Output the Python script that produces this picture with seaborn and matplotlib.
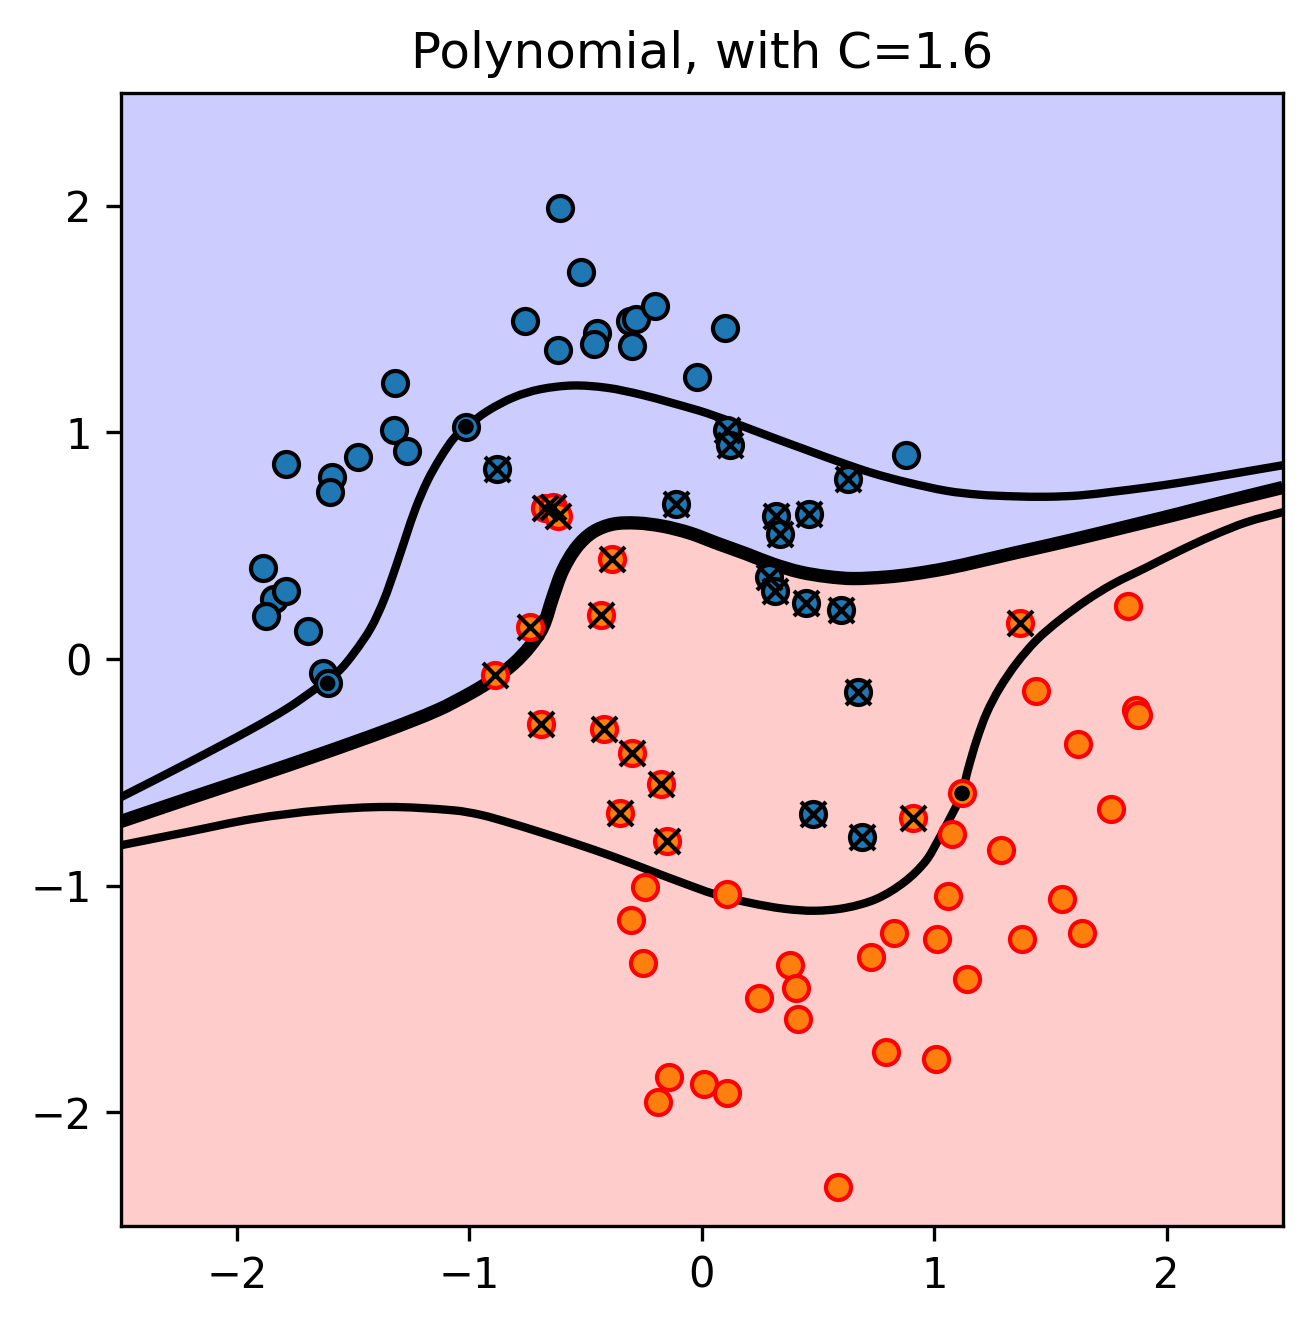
import matplotlib
matplotlib.use("Agg")
import matplotlib.pyplot as plt
import numpy as np
import seaborn as sns
from matplotlib.path import Path
from matplotlib.patches import PathPatch

blue_x = [-0.61,-0.52,-0.76,-0.45,-0.465,-0.62,-0.31,-0.285,-0.30,-0.20,0.10,-0.02,-1.32,-1.325,-1.27,-1.48,-1.79,-1.59,-1.60,-1.89,-1.84,-1.79,-1.875,-1.695,-1.63,0.88]
blue_y = [1.99,1.71,1.49,1.44,1.39,1.365,1.49,1.50,1.38,1.56,1.46,1.245,1.22,1.01,0.92,0.89,0.86,0.805,0.735,0.40,0.265,0.30,0.19,0.125,-0.06,0.90]
blue_sv_x = [-0.88,-0.11,0.107,0.12,0.63,0.46,0.32,0.335,0.29,0.315,0.447,0.60,0.67,0.48,0.69]
blue_sv_y = [0.84,0.685,1.01,0.945,0.795,0.64,0.63,0.55,0.36,0.30,0.245,0.215,-0.145,-0.685,-0.785]
blue_dot_x = [-1.015,-1.61]
blue_dot_y = [1.025,-0.108]

red_x = [1.833,1.44,1.867,1.876,1.618,1.76,1.076,1.287,0.108,-0.245,-0.305,-0.254,1.058,1.549,1.635,1.377,1.011,0.826,0.73,1.14,0.379,0.404,0.413,0.245,0.792,1.007,-0.142,-0.189,0.009,0.108,0.585]
red_y = [0.236,-0.143,-0.223,-0.245,-0.377,-0.66,-0.774,-0.845,-1.039,-1.008,-1.153,-1.343,-1.047,-1.061,-1.21,-1.237,-1.237,-1.21,-1.316,-1.413,-1.352,-1.453,-1.59,-1.497,-1.735,-1.766,-1.846,-1.956,-1.876,-1.916,-2.331]
red_sv_x = [-0.675,-0.64,-0.62,-0.387,-0.435,-0.74,-0.89,-0.69,-0.42,-0.30,-0.176,-0.353,-0.15,0.91,1.37]
red_sv_y = [0.665,0.67,0.63,0.443,0.195,0.14,-0.07,-0.285,-0.31,-0.415,-0.55,-0.68,-0.805,-0.70,0.157]
red_dot_x = [1.12]
red_dot_y = [-0.593]

upper_x = [-2.5,-2.212,-1.928,-1.781,-1.670,-1.566,-1.497,-1.424,-1.368,-1.317,-1.274,-1.231,-1.179,-1.123,-1.067,-1.015,-0.921,-0.809,-0.697,-0.555,-0.409,-0.267,-0.125,0.022,0.164,0.306,0.452,0.594,0.736,0.882,1.054,1.196,1.338,1.485,1.627,1.768,1.915,2.057,2.199,2.345,2.5]
upper_y = [-0.61,-0.459,-0.304,-0.216,-0.137,-0.057,0.026,0.137,0.260,0.406,0.538,0.666,0.789,0.891,0.974,1.023,1.095,1.155,1.19,1.207,1.197,1.168,1.129,1.085,1.032,0.977,0.922,0.869,0.820,0.780,0.742,0.725,0.718,0.716,0.722,0.738,0.757,0.778,0.802,0.828,0.855]
mid_x = [-2.5,-2.212,-1.928,-1.639,-1.351,-1.136,-0.994,-0.895,-0.809,-0.740,-0.684,-0.641,-0.598,-0.538,-0.469,-0.383,-0.280,-0.168,-0.052,0.065,0.194,0.306,0.422,0.538,0.650,0.796,0.908,1.054,1.196,1.338,1.485,1.627,1.768,1.915,2.057,2.199,2.345,2.5]
mid_y = [-0.717,-0.617,-0.520,-0.419,-0.313,-0.225,-0.150,-0.088,-0.020,0.055,0.141,0.273,0.392,0.494,0.560,0.595,0.600,0.586,0.556,0.511,0.463,0.419,0.384,0.364,0.355,0.362,0.375,0.400,0.432,0.466,0.500,0.534,0.569,0.606,0.642,0.680,0.718,0.757]
lower_x = [-2.5,-2.212,-1.928,-1.639,-1.351,-1.067,-0.95,-0.830,-0.684,-0.534,-0.387,-0.237,-0.090,0.056,0.207,0.353,0.486,0.620,0.753,0.873,0.964,1.020,1.080,1.119,1.145,1.183,1.226,1.282,1.355,1.441,1.540,1.657,1.768,1.915,2.057,2.199,2.345,2.5]
lower_y = [-0.822,-0.763,-0.705,-0.668,-0.653,-0.668,-0.688,-0.722,-0.768,-0.818,-0.870,-0.928,-0.985,-1.038,-1.076,-1.102,-1.111,-1.098,-1.058,-0.983,-0.891,-0.794,-0.679,-0.595,-0.489,-0.357,-0.238,-0.128,-0.018,0.084,0.172,0.260,0.330,0.405,0.478,0.545,0.604,0.648]


def smooth_path(xs, ys):
    """Bezier path that goes through every read point, for a smooth stroke."""
    p = np.column_stack([xs, ys])
    d = np.hypot(*np.diff(p, axis=0).T)
    t = np.zeros_like(p)
    t[1:-1] = (p[2:] - p[:-2]) / (d[1:] + d[:-1])[:, None]
    t[0] = (p[1] - p[0]) / d[0]
    t[-1] = (p[-1] - p[-2]) / d[-1]
    verts = [p[0]]
    codes = [Path.MOVETO]
    for i in range(len(d)):
        verts += [p[i] + t[i] * d[i] / 3, p[i + 1] - t[i + 1] * d[i] / 3, p[i + 1]]
        codes += [Path.CURVE4] * 3
    return Path(verts, codes)


sns.set_style("ticks", {"axes.grid": False})
plt.rcParams.update({"font.family": "DejaVu Sans", "axes.edgecolor": "black", "xtick.color": "black",
                     "ytick.color": "black", "text.color": "black", "axes.labelcolor": "black",
                     "xtick.direction": "out", "ytick.direction": "out", "axes.linewidth": 0.8,
                     "xtick.major.size": 3.5, "ytick.major.size": 3.5,
                     "xtick.major.width": 0.8, "ytick.major.width": 0.8,
                     "font.size": 10, "xtick.labelsize": 10, "ytick.labelsize": 10})

fig = plt.figure(figsize=(1313/300, 1324/300), dpi=300)
ax = fig.add_axes([120.8/1313, 1-1225.5/1324, 1162/1313, 1133/1324])

ax.fill_between(mid_x, mid_y, 2.5, color="#ccccff", lw=0, zorder=0)
ax.fill_between(mid_x, -2.5, mid_y, color="#ffcccc", lw=0, zorder=0)

for cx, cy, w in [(upper_x, upper_y, 2), (mid_x, mid_y, 3.2), (lower_x, lower_y, 2)]:
    ax.add_patch(PathPatch(smooth_path(cx, cy), fill=False, edgecolor="black", linewidth=w, zorder=2))

sns.scatterplot(x=blue_x + blue_dot_x + blue_sv_x, y=blue_y + blue_dot_y + blue_sv_y, ax=ax,
                color="tab:blue", edgecolor="black", s=36, linewidth=1, zorder=3)
sns.scatterplot(x=red_x + red_dot_x + red_sv_x, y=red_y + red_dot_y + red_sv_y, ax=ax,
                color="tab:orange", edgecolor="red", s=36, linewidth=1, zorder=3)
sns.scatterplot(x=blue_sv_x + red_sv_x, y=blue_sv_y + red_sv_y, ax=ax, marker="x", color="black",
                s=36, linewidth=1, zorder=4)
sns.scatterplot(x=blue_dot_x + red_dot_x, y=blue_dot_y + red_dot_y, ax=ax, color="black",
                edgecolor="none", s=14, zorder=4)

ax.set_xlim(-2.5, 2.5)
ax.set_ylim(-2.5, 2.5)
ax.set_xticks([-2, -1, 0, 1, 2])
ax.set_yticks([-2, -1, 0, 1, 2])
ax.set_title("Polynomial, with C=1.6", fontsize=12)
fig.savefig("out.png", dpi=300)
